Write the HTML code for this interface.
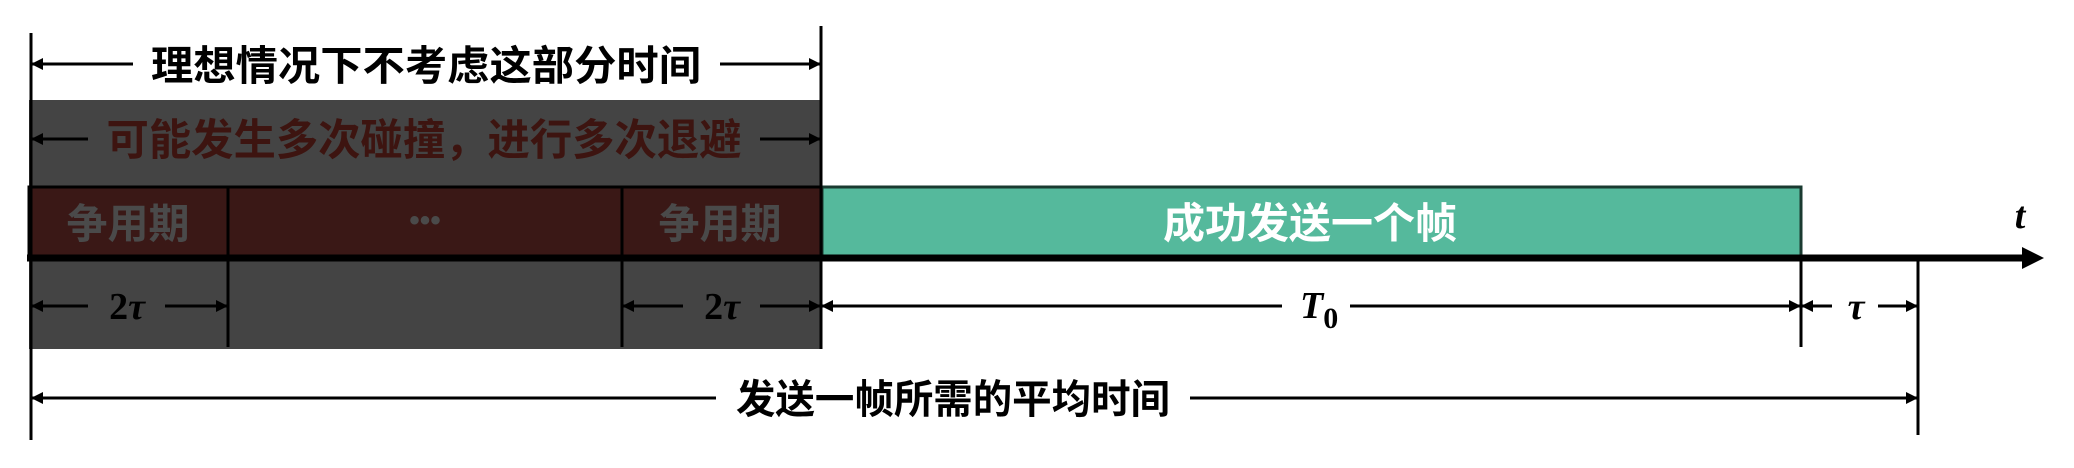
<!DOCTYPE html>
<html><head><meta charset="utf-8"><style>
html,body{margin:0;padding:0;background:#fff;width:2074px;height:468px;overflow:hidden}
text.cjk{font-family:"Liberation Sans","Noto Sans CJK SC",sans-serif;font-weight:bold}
text.m{font-family:"Liberation Serif",serif;font-weight:bold;font-style:italic}
</style></head><body>
<svg width="2074" height="468" viewBox="0 0 2074 468" xmlns="http://www.w3.org/2000/svg">
<defs>
<marker id="a" viewBox="0 0 10 10" refX="10" refY="5" markerWidth="14" markerHeight="12" markerUnits="userSpaceOnUse" orient="auto-start-reverse"><path d="M0,0 L10,5 L0,10 z" fill="#000"/></marker>
</defs>
<!-- gray box -->
<rect x="29" y="100" width="792" height="249" fill="#444"/>
<!-- red strip -->
<rect x="29" y="187" width="792" height="70" fill="#3a1816" stroke="#000" stroke-width="3"/>
<line x1="228" y1="187" x2="228" y2="347" stroke="#000" stroke-width="3"/>
<line x1="622" y1="187" x2="622" y2="347" stroke="#000" stroke-width="3"/>
<!-- green -->
<rect x="822" y="187" width="979" height="70" fill="#55b99c" stroke="#1a3a30" stroke-width="3"/>
<!-- axis -->
<line x1="27" y1="258" x2="2025" y2="258" stroke="#000" stroke-width="7"/>
<path d="M2022,247 L2044,258 L2022,269 z" fill="#000"/>
<!-- verticals -->
<line x1="31" y1="33" x2="31" y2="440" stroke="#000" stroke-width="3"/>
<line x1="821" y1="26" x2="821" y2="349" stroke="#000" stroke-width="3"/>
<line x1="1801" y1="258" x2="1801" y2="347" stroke="#000" stroke-width="3"/>
<line x1="1918" y1="258" x2="1918" y2="435" stroke="#000" stroke-width="3"/>
<!-- dims -->
<g stroke="#000" stroke-width="3" fill="none">
<line x1="31" y1="64" x2="133" y2="64" marker-start="url(#a)"/>
<line x1="720" y1="64" x2="821" y2="64" marker-end="url(#a)"/>
<line x1="31" y1="139" x2="88" y2="139" marker-start="url(#a)"/>
<line x1="760" y1="139" x2="821" y2="139" marker-end="url(#a)"/>
<line x1="31" y1="306" x2="88" y2="306" marker-start="url(#a)"/>
<line x1="165" y1="306" x2="228" y2="306" marker-end="url(#a)"/>
<line x1="622" y1="306" x2="683" y2="306" marker-start="url(#a)"/>
<line x1="760" y1="306" x2="821" y2="306" marker-end="url(#a)"/>
<line x1="821" y1="306" x2="1282" y2="306" marker-start="url(#a)"/>
<line x1="1350" y1="306" x2="1801" y2="306" marker-end="url(#a)"/>
<line x1="1801" y1="306" x2="1832" y2="306" marker-start="url(#a)"/>
<line x1="1878" y1="306" x2="1918" y2="306" marker-end="url(#a)"/>
<line x1="31" y1="398" x2="716" y2="398" marker-start="url(#a)"/>
<line x1="1190" y1="398" x2="1918" y2="398" marker-end="url(#a)"/>
</g>
<!-- labels -->
<text class="cjk" x="426" y="80" font-size="41" text-anchor="middle" fill="#000" textLength="550" lengthAdjust="spacingAndGlyphs">理想情况下不考虑这部分时间</text>
<text class="cjk" x="424" y="155" font-size="43" text-anchor="middle" fill="#3d1410" textLength="635" lengthAdjust="spacingAndGlyphs">可能发生多次碰撞，进行多次退避</text>
<text class="cjk" x="128" y="238" font-size="41" text-anchor="middle" fill="#4a4a4a">争用期</text>
<text class="cjk" x="720" y="238" font-size="41" text-anchor="middle" fill="#4a4a4a">争用期</text>
<text class="cjk" x="425" y="230" font-size="30" text-anchor="middle" fill="#4a4a4a">•••</text>
<text class="cjk" x="1310" y="238" font-size="42" text-anchor="middle" fill="#fff" textLength="294" lengthAdjust="spacingAndGlyphs">成功发送一个帧</text>
<text class="cjk" x="953" y="413" font-size="40" text-anchor="middle" fill="#000" textLength="434" lengthAdjust="spacingAndGlyphs">发送一帧所需的平均时间</text>
<text class="m" x="2020" y="228" font-size="38" text-anchor="middle" fill="#000">t</text>
<text class="m" x="127" y="319" font-size="38" text-anchor="middle" fill="#000" style="font-style:normal">2<tspan font-style="italic">τ</tspan></text>
<text class="m" x="722" y="319" font-size="38" text-anchor="middle" fill="#000" style="font-style:normal">2<tspan font-style="italic">τ</tspan></text>
<text class="m" x="1300" y="318" font-size="38" fill="#000">T<tspan font-style="normal" font-size="30" dy="10">0</tspan></text>
<text class="m" x="1856" y="319" font-size="38" text-anchor="middle" fill="#000">τ</text>
</svg>
</body></html>
